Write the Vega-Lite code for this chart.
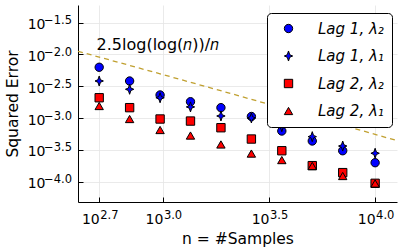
{
  "$schema": "https://vega.github.io/schema/vega-lite/v6.json",
  "width": 319,
  "height": 197,
  "autosize": {"type": "none"},
  "padding": {"left": 78, "top": 5, "right": 3, "bottom": 48},
  "background": "white",
  "config": {"font": "DejaVu Sans", "view": {"stroke": null}},
  "datasets": {
    "pts": [
      {"n": 501, "err": 0.00630, "series": "Lag 1, λ₂"},
      {"n": 697, "err": 0.00383, "series": "Lag 1, λ₂"},
      {"n": 970, "err": 0.00231, "series": "Lag 1, λ₂"},
      {"n": 1349, "err": 0.00181, "series": "Lag 1, λ₂"},
      {"n": 1877, "err": 0.00146, "series": "Lag 1, λ₂"},
      {"n": 2612, "err": 0.00106, "series": "Lag 1, λ₂"},
      {"n": 3634, "err": 0.000627, "series": "Lag 1, λ₂"},
      {"n": 5057, "err": 0.000437, "series": "Lag 1, λ₂"},
      {"n": 7036, "err": 0.000307, "series": "Lag 1, λ₂"},
      {"n": 10000, "err": 0.000199, "series": "Lag 1, λ₂"},
      {"n": 501, "err": 0.00383, "series": "Lag 1, λ₁"},
      {"n": 697, "err": 0.00284, "series": "Lag 1, λ₁"},
      {"n": 970, "err": 0.00209, "series": "Lag 1, λ₁"},
      {"n": 1349, "err": 0.00150, "series": "Lag 1, λ₁"},
      {"n": 1877, "err": 0.00108, "series": "Lag 1, λ₁"},
      {"n": 2612, "err": 0.001005, "series": "Lag 1, λ₁"},
      {"n": 3634, "err": 0.000733, "series": "Lag 1, λ₁"},
      {"n": 5057, "err": 0.000511, "series": "Lag 1, λ₁"},
      {"n": 7036, "err": 0.000364, "series": "Lag 1, λ₁"},
      {"n": 10000, "err": 0.000280, "series": "Lag 1, λ₁"},
      {"n": 501, "err": 0.00209, "series": "Lag 2, λ₂"},
      {"n": 697, "err": 0.00146, "series": "Lag 2, λ₂"},
      {"n": 970, "err": 0.000968, "series": "Lag 2, λ₂"},
      {"n": 1349, "err": 0.000899, "series": "Lag 2, λ₂"},
      {"n": 1877, "err": 0.000706, "series": "Lag 2, λ₂"},
      {"n": 2612, "err": 0.000469, "series": "Lag 2, λ₂"},
      {"n": 3634, "err": 0.000307, "series": "Lag 2, λ₂"},
      {"n": 5057, "err": 0.000179, "series": "Lag 2, λ₂"},
      {"n": 7036, "err": 0.000139, "series": "Lag 2, λ₂"},
      {"n": 10000, "err": 0.0000944, "series": "Lag 2, λ₂"},
      {"n": 501, "err": 0.00155, "series": "Lag 2, λ₁"},
      {"n": 697, "err": 0.000968, "series": "Lag 2, λ₁"},
      {"n": 970, "err": 0.000650, "series": "Lag 2, λ₁"},
      {"n": 1349, "err": 0.000532, "series": "Lag 2, λ₁"},
      {"n": 1877, "err": 0.000385, "series": "Lag 2, λ₁"},
      {"n": 2612, "err": 0.000277, "series": "Lag 2, λ₁"},
      {"n": 3634, "err": 0.000219, "series": "Lag 2, λ₁"},
      {"n": 5057, "err": 0.000177, "series": "Lag 2, λ₁"},
      {"n": 7036, "err": 0.000123, "series": "Lag 2, λ₁"},
      {"n": 10000, "err": 0.0000938, "series": "Lag 2, λ₁"}
    ],
    "curve": [
      {"n": 398.1, "err": 0.011238},
      {"n": 631, "err": 0.0073835},
      {"n": 1000, "err": 0.0048317},
      {"n": 1585, "err": 0.0031502},
      {"n": 2512, "err": 0.0020480},
      {"n": 3981, "err": 0.0013282},
      {"n": 6310, "err": 0.00085935},
      {"n": 10000, "err": 0.00055508},
      {"n": 12680, "err": 0.00044277}
    ],
    "xexp": [
      {"n": 501.187, "t": "2.7"},
      {"n": 1000, "t": "3.0"},
      {"n": 3162.278, "t": "3.5"},
      {"n": 10000, "t": "4.0"}
    ],
    "yexp": [
      {"err": 0.0316228, "t": "−1.5"},
      {"err": 0.01, "t": "−2.0"},
      {"err": 0.00316228, "t": "−2.5"},
      {"err": 0.001, "t": "−3.0"},
      {"err": 0.000316228, "t": "−3.5"},
      {"err": 0.0001, "t": "−4.0"}
    ],
    "note": [{"n": 487, "err": 0.01178, "label": "2.5log(log(𝑛))/𝑛"}]
  },
  "encoding": {
    "x": {
      "field": "n", "type": "quantitative",
      "scale": {"type": "log", "domain": [398.1, 12680], "nice": false, "zero": false},
      "axis": {
        "title": "n = #Samples", "titleFontSize": 15.5, "titleFontWeight": "normal", "titleColor": "black", "titlePadding": 5,
        "values": [501.187, 1000, 3162.278, 10000],
        "labelExpr": "'10'", "labelAlign": "right", "labelBaseline": "top", "labelFontSize": 14, "labelColor": "black", "labelPadding": 15,
        "tickSize": -5, "tickColor": "black", "tickWidth": 1, "domainColor": "black", "domainWidth": 1,
        "grid": true, "gridColor": "#e4e4e4", "gridWidth": 0.8
      }
    },
    "y": {
      "field": "err", "type": "quantitative",
      "scale": {"type": "log", "domain": [0.000048, 0.06], "nice": false, "zero": false},
      "axis": {
        "title": "Squared Error", "titleFontSize": 15.5, "titleFontWeight": "normal", "titleColor": "black", "titlePadding": 7,
        "values": [0.0316228, 0.01, 0.00316228, 0.001, 0.000316228, 0.0001],
        "labelExpr": "'10'", "labelFontSize": 14, "labelColor": "black", "labelPadding": 38, "labelOffset": 2,
        "tickSize": -5, "tickColor": "black", "tickWidth": 1, "domainColor": "black", "domainWidth": 1,
        "grid": true, "gridColor": "#e4e4e4", "gridWidth": 0.8
      }
    }
  },
  "layer": [
    {
      "data": {"name": "curve"},
      "mark": {"type": "line", "color": "#c0a030", "strokeDash": [5, 4], "strokeWidth": 1.3, "clip": true}
    },
    {
      "data": {"name": "pts"},
      "mark": {"type": "point", "filled": true, "stroke": "black", "strokeWidth": 1, "size": 70, "opacity": 1},
      "encoding": {
        "shape": {
          "field": "series", "type": "nominal",
          "scale": {"domain": ["Lag 1, λ₂", "Lag 1, λ₁", "Lag 2, λ₂", "Lag 2, λ₁"],
                    "range": ["circle", "M0,-1.2L0.3,-0.3L1,0L0.3,0.3L0,1.2L-0.3,0.3L-1,0L-0.3,-0.3Z", "square", "triangle-up"]},
          "legend": {"title": null}
        },
        "fill": {
          "field": "series", "type": "nominal",
          "scale": {"domain": ["Lag 1, λ₂", "Lag 1, λ₁", "Lag 2, λ₂", "Lag 2, λ₁"],
                    "range": ["#0000ff", "#0000ff", "#ff0000", "#ff0000"]},
          "legend": {
            "title": null, "orient": "none", "legendX": 189, "legendY": 8,
            "padding": 8, "fillColor": "white", "strokeColor": "black", "cornerRadius": 4,
            "labelFontSize": 15, "labelFontStyle": "italic", "labelColor": "black", "labelOffset": 22,
            "symbolOffset": 6, "symbolSize": 70, "symbolStrokeColor": "black", "symbolStrokeWidth": 1,
            "rowPadding": 11.5
          }
        }
      }
    },
    {
      "data": {"name": "xexp"},
      "mark": {"type": "text", "align": "left", "baseline": "alphabetic", "dx": 1, "dy": 16.5, "fontSize": 11.5, "color": "black"},
      "encoding": {
        "y": {"value": "height"},
        "text": {"field": "t"}
      }
    },
    {
      "data": {"name": "yexp"},
      "mark": {"type": "text", "align": "right", "baseline": "middle", "dx": -6, "dy": -1.5, "fontSize": 11.5, "color": "black"},
      "encoding": {
        "x": {"value": 0},
        "text": {"field": "t"}
      }
    },
    {
      "data": {"name": "note"},
      "mark": {"type": "text", "align": "left", "baseline": "alphabetic", "fontSize": 16, "color": "black"},
      "encoding": {
        "text": {"field": "label"}
      }
    }
  ]
}
